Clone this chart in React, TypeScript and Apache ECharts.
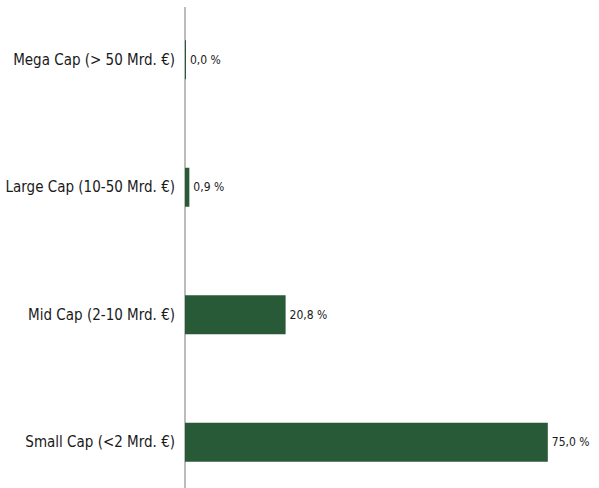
import React, { useEffect, useRef } from "react";
import * as echarts from "echarts";

const categories = [
  "Mega Cap (> 50 Mrd. €)",
  "Large Cap (10-50 Mrd. €)",
  "Mid Cap (2-10 Mrd. €)",
  "Small Cap (<2 Mrd. €)",
];
const values = [0.0, 0.9, 20.8, 75.0];

const FONT = "'Liberation Sans Narrow', 'DejaVu Sans Condensed', sans-serif";

export default function App() {
  const ref = useRef<HTMLDivElement>(null);
  useEffect(() => {
    if (!ref.current) return;
    const chart = echarts.init(ref.current, null, { renderer: "svg" });
    chart.setOption({
      animation: false,
      backgroundColor: "#ffffff",
      grid: {
        left: 185,
        right: 27,
        top: -4,
        height: 510,
        containLabel: false,
        outerBoundsMode: "none",
      },
      xAxis: {
        type: "value",
        min: 0,
        max: 80,
        show: false,
      },
      yAxis: {
        type: "category",
        data: categories,
        inverse: true,
        axisLine: { show: false },
        axisTick: { show: false },
        splitLine: { show: false },
        axisLabel: {
          margin: 10,
          color: "#1a1a1a",
          fontSize: 15,
          fontFamily: FONT,
        },
      },
      graphic: [
        {
          type: "line",
          z: 0,
          shape: { x1: 185, y1: 7, x2: 185, y2: 488 },
          style: { stroke: "#a6a6a6", lineWidth: 1.5 },
        },
      ],
      series: [
        {
          type: "bar",
          data: values,
          barWidth: 39,
          barMinHeight: 1,
          z: 3,
          itemStyle: { color: "#295a37" },
          label: {
            show: true,
            position: "right",
            distance: 4,
            color: "#1a1a1a",
            fontSize: 12,
            fontFamily: FONT,
            formatter: (p: any) => p.value.toFixed(1).replace(".", ",") + " %",
          },
        },
      ],
    });
    return () => chart.dispose();
  }, []);
  return (
    <div
      ref={ref}
      style={{ position: "absolute", left: 0, top: 0, width: 599, height: 488 }}
    />
  );
}
